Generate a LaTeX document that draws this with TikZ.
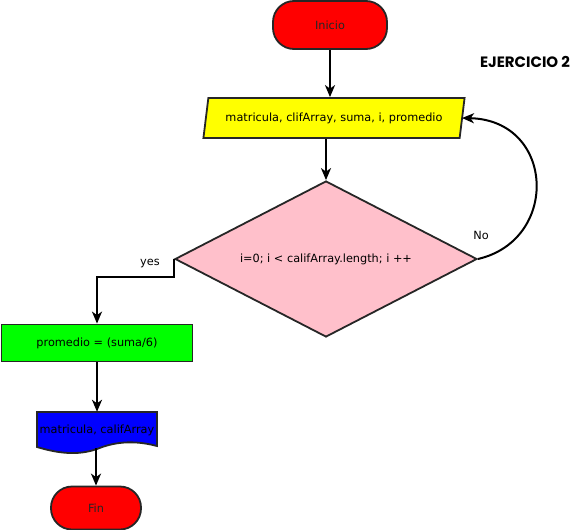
\documentclass[tikz,border=0pt]{standalone}
\usepackage{fontspec}
\setmainfont{DejaVu Sans}
\newfontfamily\titlefont{Poppins}
\usetikzlibrary{shapes.geometric, arrows.meta}

\definecolor{termred}{RGB}{255,0,0}
\definecolor{datayellow}{RGB}{255,255,0}
\definecolor{condpink}{RGB}{255,192,203}
\definecolor{procgreen}{RGB}{0,255,0}
\definecolor{docblue}{RGB}{0,0,255}

\tikzset{
  every node/.style={font=\fontsize{11.3}{13}\selectfont},
  shapeline/.style={draw=black!85, line width=1.8pt},
  terminal/.style={shapeline, fill=termred, rounded corners=21pt, text=black!85},
  flow/.style={-{Stealth[length=12pt,width=10pt,inset=3.5pt]}, line width=2pt}
}

\begin{document}
\begin{tikzpicture}[x=1pt, y=-1pt]
\useasboundingbox (0,0) rectangle (573,530);
\node[terminal, minimum width=114pt, minimum height=48pt] (inicio) at (330,25) {Inicio};
\node[font=\titlefont\bfseries\fontsize{15}{17}\selectfont] (titulo) at (525,62) {EJERCICIO 2};
\node[shapeline, fill=datayellow, trapezium, trapezium left angle=76, trapezium right angle=104,
  trapezium stretches=true, minimum width=262pt, minimum height=40pt] (datos) at (334,118)
  {matricula, clifArray, suma, i, promedio};
\node[shapeline, fill=condpink, diamond, shape aspect=1.94, inner sep=0pt, minimum width=302pt,
  minimum height=156pt] (ciclo) at (326,259) {i=0; i < califArray.length; i ++};
\node[shapeline, fill=procgreen, minimum width=191pt, minimum height=37pt] (prom) at (97,343)
  {promedio = (suma/6)};
% documento con borde ondulado
\fill[docblue] (37,412) -- (157,412) -- (157,446) .. controls (127,438) and (107,445) .. (97,449)
  .. controls (77,456) and (57,453) .. (37,447) -- cycle;
\draw[shapeline] (37,412) -- (157,412) -- (157,446) .. controls (127,438) and (107,445) .. (97,449)
  .. controls (77,456) and (57,453) .. (37,447) -- cycle;
\node[minimum width=120pt, minimum height=36pt, inner sep=0pt] (salida) at (97,430) {matricula, califArray};
\node[terminal, minimum width=90pt, minimum height=43pt] (fin) at (96,508) {Fin};

\draw[flow] (inicio.south) -- (inicio.south |- datos.north);
\draw[flow] (ciclo.north |- datos.south) -- (ciclo.north);
\draw[flow] (ciclo.west) -- ++(0,18) -| (prom.north);
\draw[flow] (ciclo.east) .. controls (560,240) and (555,120) .. (462,118);
\draw[flow] (prom.south) -- (salida.north);
\draw[flow] (fin.north |- salida.south) -- (fin.north);

\node (no) at (481,235) {No};
\node (yes) at (150,264) {yes};
\end{tikzpicture}
\end{document}
